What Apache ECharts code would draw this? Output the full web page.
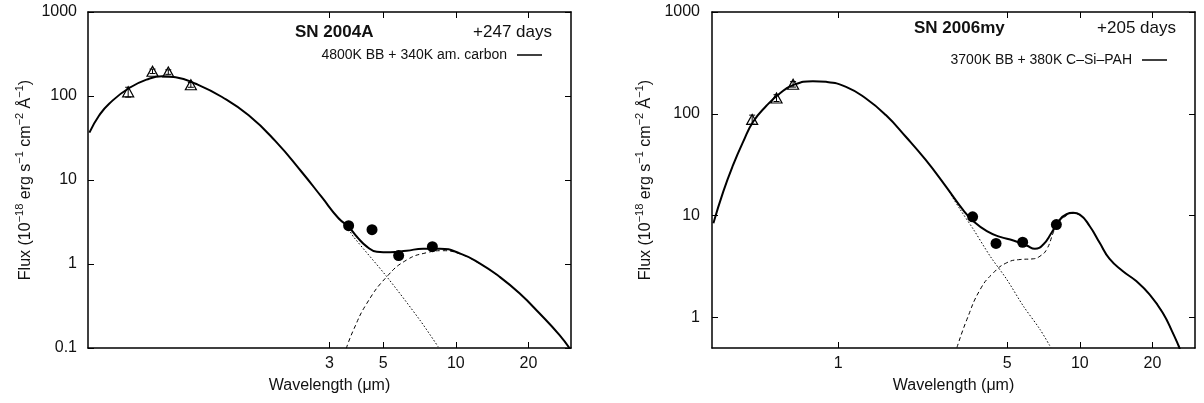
<!DOCTYPE html>
<html>
<head>
<meta charset="utf-8">
<script src="https://cdn.jsdelivr.net/npm/echarts@6/dist/echarts.min.js"></script>
<style>html,body{margin:0;padding:0;background:#fff}#c{width:1204px;height:403px}</style>
</head>
<body>
<div id="c"></div>
<script>
// ---------- SN 2004A (+247 days) ----------
const a_optWl   = [0.44, 0.555, 0.645, 0.80];
const a_optFlux = [112, 197, 193, 136];
const a_optErr  = [15, 12, 12, 9];
const a_irWl    = [3.6, 4.5, 5.8, 8.0];
const a_irFlux  = [2.86, 2.56, 1.26, 1.61];
const a_totWl   = [0.304, 0.334, 0.367, 0.444, 0.537, 0.609, 0.692, 0.837, 1.077, 1.388, 1.788, 2.302, 2.783, 3.262, 3.596, 3.895, 4.283, 4.71, 5.344, 6.26, 7.33, 8.59, 10.39, 12.56, 15.18, 18.36, 22.2, 26.85, 30];
const a_totFlux = [36.6, 58.9, 81.0, 124.5, 160.7, 171.6, 167, 140, 97.3, 58.9, 29.2, 12.45, 6.28, 3.53, 2.78, 2.11, 1.61, 1.40, 1.38, 1.44, 1.52, 1.52, 1.34, 1.02, 0.706, 0.448, 0.259, 0.143, 0.094];
const a_bbWl    = [2.783, 3.262, 3.596, 3.77, 5.18, 7.10, 8.45];
const a_bbFlux  = [6.28, 3.50, 2.60, 2.11, 0.706, 0.215, 0.1036];
const a_dustWl  = [3.52, 3.77, 4.283, 5.18, 6.26, 7.57, 8.86, 10.39, 12.56, 15.18, 18.36, 22.2, 26.85, 30];
const a_dustFlux= [0.099, 0.164, 0.340, 0.706, 1.116, 1.363, 1.44, 1.32, 1.01, 0.70, 0.445, 0.258, 0.143, 0.094];

// ---------- SN 2006my (+205 days) ----------
const b_optWl   = [0.44, 0.555, 0.65];
const b_optFlux = [88, 143, 195];
const b_optErr  = [9, 11, 12];
const b_irWl    = [3.6, 4.5, 5.8, 8.0];
const b_irFlux  = [9.71, 5.32, 5.47, 8.16];
const b_totWl   = [0.304, 0.334, 0.367, 0.404, 0.444, 0.504, 0.572, 0.649, 0.785, 0.891, 1.077, 1.302, 1.574, 1.904, 2.302, 2.783, 3.303, 3.631, 4.124, 4.678, 5.309, 6.03, 6.52, 7.06, 7.64, 8.27, 8.81, 9.385, 10, 11.0, 12.09, 13.29, 15.09, 17.13, 19.44, 22.05, 24.25, 25.68, 25.97];
const b_totFlux = [8.40, 17.19, 31.4, 53.2, 83.5, 119.8, 158.1, 191.2, 209.3, 205.9, 183.9, 141.3, 97.1, 59.5, 35.2, 19.5, 11.2, 8.79, 7.02, 6.18, 5.69, 5.08, 4.72, 5.20, 6.77, 9.14, 10.30, 10.63, 10.23, 7.86, 5.40, 3.75, 2.84, 2.27, 1.68, 1.11, 0.708, 0.523, 0.486];
const b_bbWl    = [2.783, 3.20, 3.631, 4.255, 4.985, 5.84, 6.84, 7.59];
const b_bbFlux  = [19.5, 11.45, 7.29, 3.99, 2.36, 1.29, 0.763, 0.505];
const b_dustWl  = [3.10, 3.41, 3.87, 4.39, 4.985, 5.66, 6.42, 6.84, 7.29, 7.76, 8.01, 8.81, 9.385, 10, 11.0, 12.09, 13.29, 15.09, 17.13, 19.44, 22.05, 24.25, 25.68, 25.97];
const b_dustFlux= [0.505, 0.956, 1.88, 2.74, 3.44, 3.70, 3.76, 3.99, 4.64, 6.77, 8.16, 10.0, 10.5, 10.1, 7.8, 5.38, 3.74, 2.84, 2.27, 1.68, 1.11, 0.708, 0.523, 0.486];

// ---------- axes / labels ----------
const xTicksA = [3, 5, 10, 20];
const xTicksB = [1, 5, 10, 20];
const yTicksA = [0.1, 1, 10, 100, 1000];
const yTicksB = [1, 10, 100, 1000];
const legendA = '4800K BB + 340K am. carbon';
const legendB = '3700K BB + 380K C–Si–PAH';
const titleA = 'SN 2004A', daysA = '+247 days';
const titleB = 'SN 2006my', daysB = '+205 days';

const FONT = '"Liberation Sans", Arial, Helvetica, sans-serif';
const INK = '#111';
const zip = (xs, ys) => xs.map((x, i) => [x, ys[i]]);
const zip3 = (xs, ys, es) => xs.map((x, i) => [x, ys[i], es[i]]);
const fmt = v => String(Number((+v).toPrecision(6)));

const yName = '{n|Flux (10}{s|−18}{n| erg s}{s|−1}{n| cm}{s|−2}{n| Å}{s|−1}{n|)}';
const yRich = {
  n: {fontSize: 16, lineHeight: 24, fontFamily: FONT, color: INK},
  s: {fontSize: 11, lineHeight: 11, verticalAlign: 'top', fontFamily: FONT, color: INK}
};

function xAxis(grid, pos, ticks, main) {
  return {
    type: 'log', logBase: 10, gridIndex: grid, position: pos, min: 0.3, max: 30,
    name: main ? 'Wavelength (μm)' : '', nameLocation: 'middle', nameGap: 30,
    nameTextStyle: {fontSize: 16, fontFamily: FONT, color: INK},
    axisLine: {show: true, lineStyle: {color: '#000', width: 1.5}},
    axisTick: {show: true, inside: true, length: 6, customValues: ticks, lineStyle: {color: '#000', width: 1}},
    axisLabel: {show: main, customValues: ticks, margin: 8, fontSize: 16, fontFamily: FONT, color: INK, formatter: fmt},
    minorTick: {show: false}, splitLine: {show: false}
  };
}
function yAxis(grid, pos, min, ticks, main, gap, margin) {
  return {
    type: 'log', logBase: 10, gridIndex: grid, position: pos, min: min, max: 1000,
    name: main ? yName : '', nameLocation: 'middle', nameGap: gap,
    nameTextStyle: {fontSize: 16, fontFamily: FONT, color: INK, rich: yRich},
    axisLine: {show: true, lineStyle: {color: '#000', width: 1.5}},
    axisTick: {show: true, inside: true, length: 6, customValues: ticks, lineStyle: {color: '#000', width: 1}},
    axisLabel: {show: main, customValues: ticks, margin: margin, fontSize: 16, fontFamily: FONT, color: INK, formatter: fmt},
    minorTick: {show: false}, splitLine: {show: false}
  };
}

function errorBars(params, api) {
  const x = api.value(0), y = api.value(1), e = api.value(2);
  const hi = api.coord([x, y + e]);
  const lo = api.coord([x, y - e]);
  const s = {stroke: '#000', lineWidth: 1};
  return {type: 'group', children: [
    {type: 'line', shape: {x1: hi[0], y1: hi[1], x2: lo[0], y2: lo[1]}, style: s},
    {type: 'line', shape: {x1: hi[0] - 3, y1: hi[1], x2: hi[0] + 3, y2: hi[1]}, style: s},
    {type: 'line', shape: {x1: lo[0] - 3, y1: lo[1], x2: lo[0] + 3, y2: lo[1]}, style: s}
  ]};
}

function panelSeries(xi, yi, name, totWl, totFlux, bbWl, bbFlux, dustWl, dustFlux, optWl, optFlux, optErr, irWl, irFlux) {
  return [
    {type: 'line', name: name + ' BB', xAxisIndex: xi, yAxisIndex: yi, data: zip(bbWl, bbFlux),
     symbol: 'none', smooth: 0.3, lineStyle: {color: '#000', width: 1, type: [1.5, 2]}, z: 2, silent: true},
    {type: 'line', name: name + ' dust', xAxisIndex: xi, yAxisIndex: yi, data: zip(dustWl, dustFlux),
     symbol: 'none', smooth: 0.5, lineStyle: {color: '#000', width: 1, type: [4, 3]}, z: 2, silent: true},
    {type: 'line', name: name, xAxisIndex: xi, yAxisIndex: yi, data: zip(totWl, totFlux),
     symbol: 'none', smooth: 0.5, lineStyle: {color: '#000', width: 2}, itemStyle: {color: '#000'}, z: 3},
    {type: 'custom', name: name + ' optical errors', xAxisIndex: xi, yAxisIndex: yi, data: zip3(optWl, optFlux, optErr),
     renderItem: errorBars, z: 4, silent: true},
    {type: 'scatter', name: name + ' optical', xAxisIndex: xi, yAxisIndex: yi, data: zip(optWl, optFlux),
     symbol: 'triangle', symbolSize: [11, 10], itemStyle: {color: 'rgba(255,255,255,0)', borderColor: '#000', borderWidth: 1.2, opacity: 1}, z: 5},
    {type: 'scatter', name: name + ' IR', xAxisIndex: xi, yAxisIndex: yi, data: zip(irWl, irFlux),
     symbol: 'circle', symbolSize: 11, itemStyle: {color: '#000', opacity: 1}, z: 5}
  ];
}

function legendCfg(name, rightEdge, top) {
  return {
    data: [name], right: 1204 - rightEdge, top: top, align: 'right', orient: 'horizontal',
    icon: 'rect', itemWidth: 25, itemHeight: 1.5, selectedMode: false, padding: 0,
    textStyle: {fontSize: 14, fontFamily: FONT, color: INK, padding: [0, 5, 0, 0]}
  };
}

function label(x, y, text, align, bold) {
  return {type: 'text', x: x, y: y, silent: true,
    style: {text: text, fill: INK, font: (bold ? 'bold ' : '') + '17px ' + FONT, align: align, verticalAlign: 'middle'}};
}

const chart = echarts.init(document.getElementById('c'), null, {renderer: 'canvas'});
chart.setOption({
  backgroundColor: '#fff',
  animation: false,
  grid: [
    {left: 88, top: 12, width: 483, height: 336, outerBoundsMode: 'none', containLabel: false},
    {left: 712, top: 12, width: 483, height: 336, outerBoundsMode: 'none', containLabel: false}
  ],
  xAxis: [
    xAxis(0, 'bottom', xTicksA, true), xAxis(0, 'top', xTicksA, false),
    xAxis(1, 'bottom', xTicksB, true), xAxis(1, 'top', xTicksB, false)
  ],
  yAxis: [
    yAxis(0, 'left', 0.1, yTicksA, true, 50, 11), yAxis(0, 'right', 0.1, yTicksA, false, 0, 0),
    yAxis(1, 'left', 0.5, yTicksB, true, 54, 12), yAxis(1, 'right', 0.5, yTicksB, false, 0, 0)
  ],
  legend: [legendCfg(legendA, 542, 48), legendCfg(legendB, 1167, 53)],
  graphic: [
    label(295, 32, titleA, 'left', true), label(552, 32, daysA, 'right', false),
    label(914, 28, titleB, 'left', true), label(1176, 28, daysB, 'right', false)
  ],
  series: [].concat(
    panelSeries(0, 0, legendA, a_totWl, a_totFlux, a_bbWl, a_bbFlux, a_dustWl, a_dustFlux, a_optWl, a_optFlux, a_optErr, a_irWl, a_irFlux),
    panelSeries(2, 2, legendB, b_totWl, b_totFlux, b_bbWl, b_bbFlux, b_dustWl, b_dustFlux, b_optWl, b_optFlux, b_optErr, b_irWl, b_irFlux)
  )
});
</script>
</body>
</html>
